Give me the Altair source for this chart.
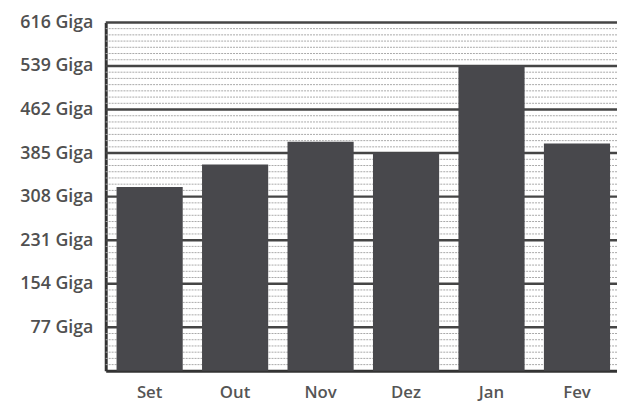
import altair as alt
import pandas as pd

months = ["Set", "Out", "Nov", "Dez", "Jan", "Fev"]
values = [325, 365, 405, 386, 540, 402]
major_ticks = [77, 154, 231, 308, 385, 462, 539, 616]
minor_ticks = [v for v in range(11, 616, 11) if v % 77 != 0]

bars_df = pd.DataFrame({"month": months, "value": values})
major_df = pd.DataFrame({"v": major_ticks})
minor_df = pd.DataFrame({"v": minor_ticks})

yscale = alt.Scale(domain=[0, 616], nice=False, zero=True)

minor = alt.Chart(minor_df).mark_rule(color="#a8a8a8", strokeWidth=1, strokeDash=[2, 1]).encode(
    y=alt.Y("v:Q", scale=yscale)
)
major = alt.Chart(major_df).mark_rule(color="#454545", strokeWidth=2.5).encode(
    y=alt.Y("v:Q", scale=yscale)
)
bars = alt.Chart(bars_df).mark_bar(color="#48484c").encode(
    x=alt.X("month:N", sort=months,
            scale=alt.Scale(paddingInner=0.226, paddingOuter=0.104, align=0.61),
            axis=alt.Axis(title=None, labelAngle=0, domainColor="#333", domainWidth=3,
                          ticks=False, labelPadding=14, labelFontSize=17,
                          labelFont="Open Sans", labelFontWeight=600, labelColor="#555")),
    y=alt.Y("value:Q", scale=yscale,
            axis=alt.Axis(title=None, values=major_ticks, grid=False, ticks=False,
                          domainColor="#333", domainWidth=3, labelPadding=13,
                          labelExpr="datum.value + ' Giga'", labelFontSize=18,
                          labelFont="Open Sans", labelFontWeight=600, labelColor="#505050")),
)

chart = alt.layer(minor, major, bars).properties(
    width=518, height=353,
    autosize=alt.AutoSizeParams(type="none"),
    padding={"left": 99, "top": 12, "right": 0, "bottom": 32},
    background="white",
).configure_view(stroke=None)

chart.save("out.html", embed_options={"renderer": "svg", "actions": False})
